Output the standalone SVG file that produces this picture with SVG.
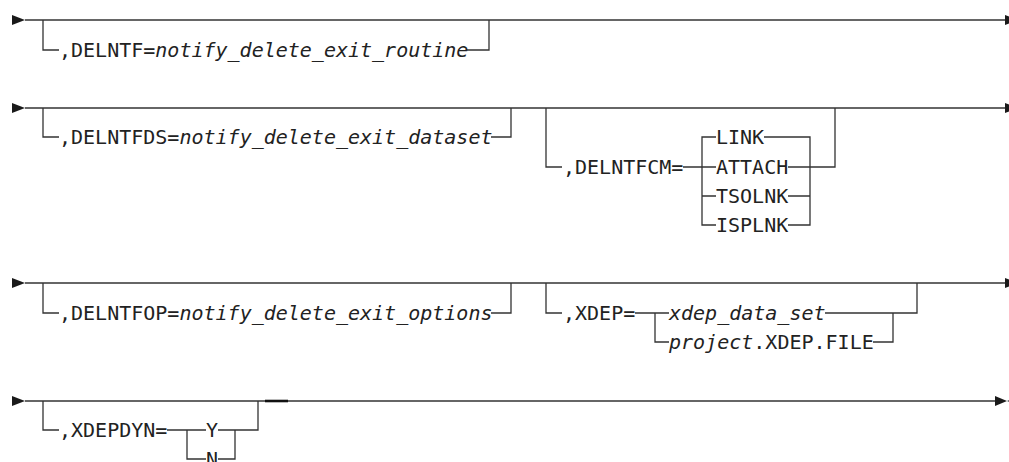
<svg xmlns="http://www.w3.org/2000/svg" width="1009" height="462" viewBox="0 0 1009 462">
<style>
.ln{fill:none;stroke:#333;stroke-width:1.3}
.ar{fill:#1a1a1a}
text{font-family:"DejaVu Sans Mono","Liberation Mono",monospace;font-size:20px;fill:#222}
.it{font-style:italic}
</style>
<rect width="1009" height="462" fill="#fff"/>
<g id="connectors">
<!-- row 1 -->
<path class="ln" d="M25,20 H1005"/>
<path class="ln" d="M43,20 V50 H59 M467,50 H489 V20"/>
<!-- row 2 -->
<path class="ln" d="M25,108 H1005"/>
<path class="ln" d="M43,108 V137 H59 M491,137 H511 V108"/>
<path class="ln" d="M546,108 V167 H562 M683,167 H716 M788,167 H835 V108"/>
<path class="ln" d="M716,137 H702 V225 H716 M702,196 H716 M764,137 H810 V225 H788 M788,196 H810"/>
<!-- row 3 -->
<path class="ln" d="M25,283 H1005"/>
<path class="ln" d="M43,283 V313 H59 M491,313 H511 V283"/>
<path class="ln" d="M546,283 V313 H562 M635,313 H669 M655,313 V342 H669 M825,313 H917 V283 M873,342 H893 V313"/>
<!-- row 4 -->
<path class="ln" d="M25,401 H995"/>
<path d="M265,401 H288" fill="none" stroke="#111" stroke-width="2.6"/>
<path class="ln" d="M43,401 V430 H59 M167,430 H206 M187,430 V459 H206 M218,430 H258 V401 M218,459 H235 V430"/>
<!-- arrows -->
<polygon class="ar" points="12,15 25,20 12,25"/>
<polygon class="ar" points="1005,15 1018,20 1005,25"/>
<polygon class="ar" points="12,103 25,108 12,113"/>
<polygon class="ar" points="1005,103 1018,108 1005,113"/>
<polygon class="ar" points="12,278 25,283 12,288"/>
<polygon class="ar" points="1005,278 1018,283 1005,288"/>
<polygon class="ar" points="12,396 25,401 12,406"/>
<polygon class="ar" points="995,396 1007,401 995,406"/>
<polygon class="ar" points="1020,396 1007,401 1020,406"/>
</g>
<g id="delntf"><text x="59" y="57">,DELNTF=<tspan class="it">notify_delete_exit_routine</tspan></text></g>
<g id="delntfds"><text x="59" y="144">,DELNTFDS=<tspan class="it">notify_delete_exit_dataset</tspan></text></g>
<g id="delntfcm"><text x="563" y="174">,DELNTFCM=</text></g>
<g id="link"><text x="716" y="144">LINK</text></g>
<g id="attach"><text x="716" y="174">ATTACH</text></g>
<g id="tsolnk"><text x="716" y="203">TSOLNK</text></g>
<g id="isplnk"><text x="716" y="232">ISPLNK</text></g>
<g id="delntfop"><text x="59" y="320">,DELNTFOP=<tspan class="it">notify_delete_exit_options</tspan></text></g>
<g id="xdep"><text x="563" y="320">,XDEP=</text></g>
<g id="xdep-ds"><text x="669" y="320" class="it">xdep_data_set</text></g>
<g id="xdep-file"><text x="669" y="349"><tspan class="it">project</tspan>.XDEP.FILE</text></g>
<g id="xdepdyn"><text x="59" y="437">,XDEPDYN=</text></g>
<g id="y"><text x="206" y="437">Y</text></g>
<g id="n"><text x="206" y="466">N</text></g>
</svg>
